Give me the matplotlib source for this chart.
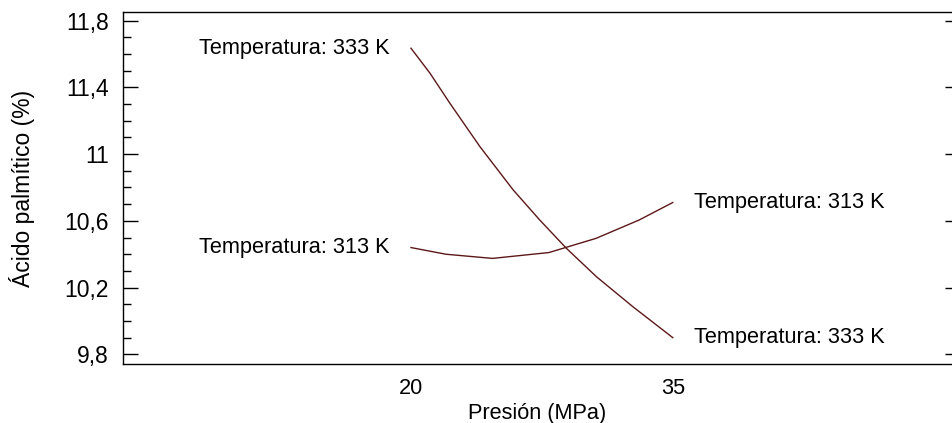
import matplotlib
matplotlib.use("Agg")
import matplotlib.pyplot as plt
import numpy as np

# values
pres_333 = [20.0, 21.09, 22.23, 23.95, 25.86, 27.38, 28.91, 30.63, 32.72, 35.0]
acid_333 = [11.635, 11.485, 11.305, 11.045, 10.785, 10.605, 10.435, 10.265, 10.085, 9.90]
pres_313 = [20.0, 22.0, 24.67, 27.9, 30.6, 33.07, 35.0]
acid_313 = [10.44, 10.40, 10.375, 10.41, 10.495, 10.605, 10.71]
label_333 = "Temperatura: 333 K"
label_313 = "Temperatura: 313 K"
xticks = [20, 35]
yticks = [9.8, 10.2, 10.6, 11.0, 11.4, 11.8]
ytick_labels = ["9,8", "10,2", "10,6", "11", "11,4", "11,8"]

plt.rcParams['font.family'] = ['Liberation Sans', 'DejaVu Sans']
fs = 15.7
col = '#5c1818'

W, H = 952, 423
fig = plt.figure(figsize=(W / 100, H / 100), dpi=100)
ax = fig.add_axes([123 / W, 1 - 364 / H, (W - 123) / W, (364 - 12) / H])

ax.plot(pres_333, acid_333, c=col, lw=1.0)
ax.plot(pres_313, acid_313, c=col, lw=1.0)

# curve end labels
for xs, ys, lab in [(pres_333, acid_333, label_333), (pres_313, acid_313, label_313)]:
    ax.annotate(lab, (xs[0], ys[0]), xytext=(-21, 0), textcoords='offset pixels',
                ha='right', va='center', fontsize=fs)
    ax.annotate(lab, (xs[-1], ys[-1]), xytext=(21, 0), textcoords='offset pixels',
                ha='left', va='center', fontsize=fs)

ax.set_xlim(3.5, 51)
ax.set_ylim(9.742, 11.852)
ax.set_xticks(xticks)
ax.set_xticklabels([str(t) for t in xticks], fontsize=fs)
ax.set_yticks(yticks)
ax.set_yticklabels(ytick_labels, fontsize=16.5)
ax.set_yticks(np.arange(9.8, 11.85, 0.1), minor=True)
ax.tick_params(axis='x', length=0, pad=10)
ax.tick_params(axis='y', which='major', direction='in', length=11, width=1, pad=10)
ax.tick_params(axis='y', which='minor', direction='in', length=6, width=1)
ax.spines['right'].set_visible(False)
for s in ['left', 'top', 'bottom']:
    ax.spines[s].set_linewidth(1.0)

# short ticks on the right edge
ax2 = ax.twinx()
ax2.set_ylim(ax.get_ylim())
ax2.set_yticks(yticks)
ax2.tick_params(axis='y', direction='in', length=5, width=1, labelright=False)
for s in ax2.spines.values():
    s.set_visible(False)

ax.set_xlabel("Presión (MPa)", fontsize=fs, labelpad=3)
ax.set_ylabel("Ácido palmítico (%)", fontsize=16.5, labelpad=21)

fig.savefig("out.png", dpi=100)
